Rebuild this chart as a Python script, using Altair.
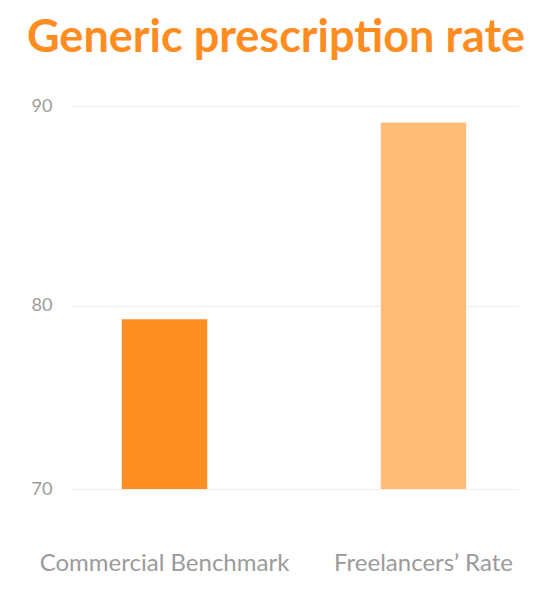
import altair as alt
import pandas as pd

categories = ["Commercial Benchmark", "Freelancers’ Rate"]
values = [79.3, 89.2]
colors = ["#FF8F23", "#FFBD78"]
y_ticks = [70, 80, 90]
baseline = 70

df = pd.DataFrame({"category": categories, "value": values})

chart = alt.Chart(df).mark_bar().encode(
    x=alt.X("category:N", sort=categories,
            scale=alt.Scale(paddingInner=0.67, paddingOuter=0.2),
            axis=alt.Axis(title=None, labelAngle=0, labelFont="Lato", labelFontSize=24,
                          labelColor="#9b9b9b", labelPadding=62, labelLimit=600,
                          ticks=False, domain=False)),
    y=alt.Y("value:Q",
            scale=alt.Scale(type="pow", exponent=1.7, domain=[70, 90], nice=False, zero=False),
            axis=alt.Axis(title=None, values=y_ticks, labelFont="Lato", labelFontSize=18,
                          labelColor="#9b9b9b", labelPadding=18, ticks=False, domain=False,
                          gridColor="#eeeeee", gridWidth=1)),
    y2=alt.Y2(datum=baseline),
    color=alt.Color("category:N", sort=categories,
                    scale=alt.Scale(domain=categories, range=colors), legend=None),
).properties(
    width=448, height=383,
    padding={"left": 62, "top": 98, "right": 28, "bottom": 101},
    autosize=alt.AutoSizeParams(type="none"),
    title=alt.TitleParams("Generic prescription rate", font="Lato", fontSize=45,
                          fontWeight="bold", color="#FF8C1F", anchor="middle",
                          frame="group", offset=36, dx=-18, limit=1000),
).configure_view(stroke=None)

chart.save("out.html", embed_options={"renderer": "svg", "actions": False})
